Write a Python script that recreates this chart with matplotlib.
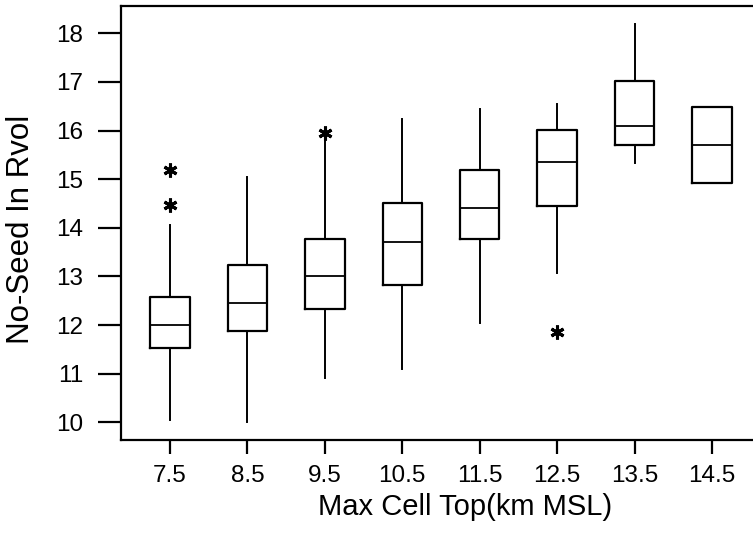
import matplotlib
matplotlib.use("Agg")
import matplotlib.pyplot as plt

# Box statistics
heights = [7.5, 8.5, 9.5, 10.5, 11.5, 12.5, 13.5, 14.5]
q1 = [11.52, 11.87, 12.33, 12.82, 13.76, 14.44, 15.71, 14.93]
med = [12.00, 12.46, 13.01, 13.70, 14.41, 15.35, 16.10, 15.71]
q3 = [12.58, 13.24, 13.76, 14.51, 15.19, 16.01, 17.02, 16.49]
whislo = [10.04, 10.00, 10.91, 11.10, 12.05, 13.06, 15.33, 14.93]
whishi = [14.06, 15.05, 15.93, 16.23, 16.45, 16.55, 18.19, 16.49]
fliers = [[15.19, 14.47], [], [15.94], [], [], [11.86], [], []]

yticks = [10, 11, 12, 13, 14, 15, 16, 17, 18]

plt.rcParams['font.family'] = ['Liberation Sans', 'DejaVu Sans']

fig = plt.figure(figsize=(7.53, 5.40), dpi=100)
ax = fig.add_axes([121 / 753, 1 - 440 / 540, 1 - 121 / 753, 434 / 540])

stats = []
for i in range(len(heights)):
    stats.append(dict(q1=q1[i], med=med[i], q3=q3[i],
                      whislo=whislo[i], whishi=whishi[i], fliers=fliers[i]))

ax.bxp(stats, positions=heights, widths=0.51, showcaps=False,
       boxprops=dict(color='black', linewidth=1.6),
       medianprops=dict(color='black', linewidth=1.3),
       whiskerprops=dict(color='black', linewidth=1.4),
       flierprops=dict(marker=(6, 2, 0), markersize=10, markeredgecolor='black',
                       markeredgewidth=2.2, linestyle='none'))

ax.set_xlim(6.867, 15.03)
ax.set_ylim(9.636, 18.56)
ax.set_xticks(heights)
ax.set_xticklabels([str(h) for h in heights])
ax.set_yticks(yticks)

ax.spines['right'].set_visible(False)
for s in ['left', 'top', 'bottom']:
    ax.spines[s].set_linewidth(1.6)

ax.tick_params(axis='y', length=16.5, width=1.6, pad=10.5, labelsize=17.5)
ax.tick_params(axis='x', length=10, width=1.6, pad=8, labelsize=17.5)

ax.set_xlabel('Max Cell Top(km MSL)', fontsize=21)
ax.set_ylabel('No-Seed In Rvol', fontsize=22.5)
# label positions in axes coordinates
ax.xaxis.set_label_coords((465 - 121) / 632, -(507 - 440) / 434)
ax.yaxis.set_label_coords(-(121 - 21) / 632, (440 - 229) / 434)
ax.xaxis.label.set_va('center')
ax.yaxis.label.set_va('center')

fig.savefig('out.png', dpi=100)
